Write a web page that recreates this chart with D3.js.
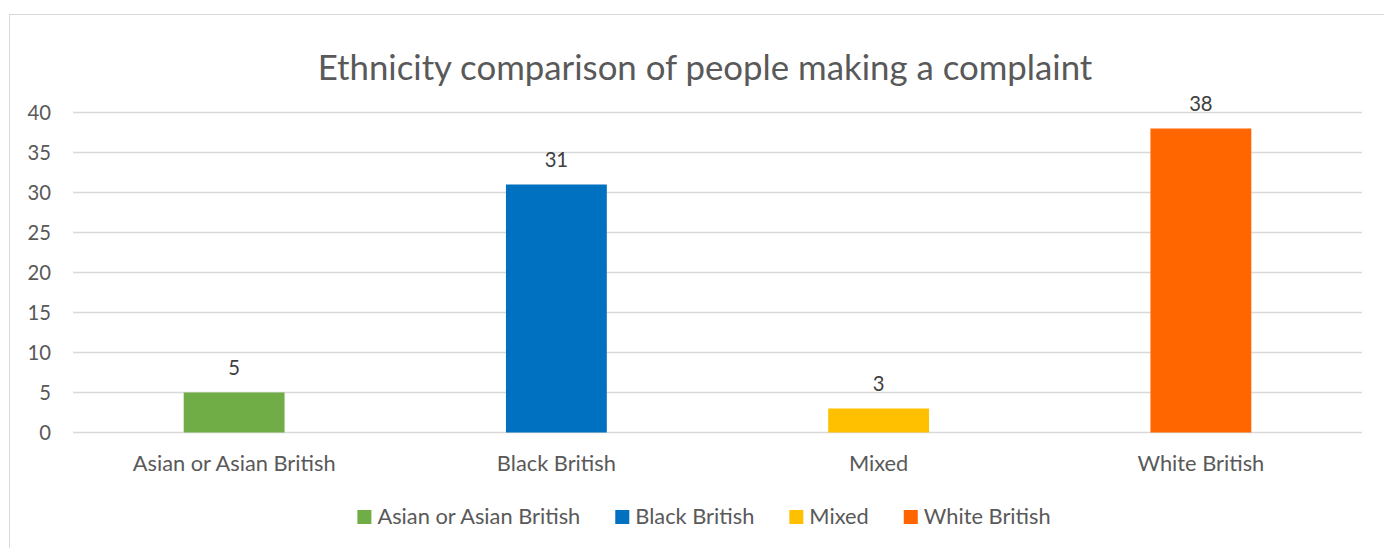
<!DOCTYPE html>
<html>
<head>
<meta charset="utf-8">
<script src="https://cdn.jsdelivr.net/npm/d3@7"></script>
<style>
  html, body { margin: 0; padding: 0; background: #fff; }
  svg { display: block; }
  text { font-family: Lato, "Open Sans", "Noto Sans", sans-serif; }
</style>
</head>
<body>
<svg id="chart" width="1384" height="548"></svg>
<script>
const title = "Ethnicity comparison of people making a complaint";
const categories = ["Asian or Asian British", "Black British", "Mixed", "White British"];
const values = [5, 31, 3, 38];
const colors = ["#70AD47", "#0070C0", "#FFC000", "#FF6600"];
const yTicks = [0, 5, 10, 15, 20, 25, 30, 35, 40];

const W = 1384, H = 548;
const plot = { left: 73, right: 1362, top: 112.5, bottom: 432.5 };
const svg = d3.select("#chart");

svg.append("rect").attr("width", W).attr("height", H).attr("fill", "#fff");
// chart border (left & top visible)
svg.append("rect")
  .attr("x", 9.5).attr("y", 14.5)
  .attr("width", W + 20).attr("height", H + 20)
  .attr("fill", "none").attr("stroke", "#d9d9d9").attr("stroke-width", 1);

// fit font size to a target width
function fit(sel, targetWidth) {
  const base = 20;
  sel.attr("font-size", base);
  const w = sel.node().getComputedTextLength();
  const fs = base * targetWidth / w;
  sel.attr("font-size", fs);
  return fs;
}

const probe = svg.append("text").text("Asian or Asian British");
const labelFS = fit(probe, 203);
probe.text("40");
const numFS = fit(probe, 23.5);
probe.remove();

const x = d3.scaleBand().domain(categories).range([plot.left, plot.right]).paddingInner(0.687).paddingOuter(0.3435);
const y = d3.scaleLinear().domain([0, 40]).range([plot.bottom, plot.top]);

// gridlines
svg.append("g").selectAll("line").data(yTicks).join("line")
  .attr("x1", plot.left).attr("x2", plot.right)
  .attr("y1", d => y(d)).attr("y2", d => y(d))
  .attr("stroke", "#d9d9d9").attr("stroke-width", 1.5);

// y axis labels
const yAxis = d3.axisLeft(y).tickValues(yTicks).tickSize(0).tickPadding(0);
const gy = svg.append("g").attr("transform", `translate(51,0)`).call(yAxis);
gy.select(".domain").remove();
gy.selectAll("text")
  .attr("font-family", 'Lato, "Open Sans", sans-serif')
  .attr("font-size", numFS).attr("fill", "#595959")
  .attr("dy", "0.36em");

// bars
svg.append("g").selectAll("rect").data(values).join("rect")
  .attr("x", (d, i) => x(categories[i]))
  .attr("width", x.bandwidth())
  .attr("y", d => y(d))
  .attr("height", d => y(0) - y(d))
  .attr("fill", (d, i) => colors[i]);

// data labels
svg.append("g").selectAll("text").data(values).join("text")
  .attr("x", (d, i) => x(categories[i]) + x.bandwidth() / 2)
  .attr("y", d => y(d) - 18)
  .attr("text-anchor", "middle")
  .attr("font-size", numFS).attr("fill", "#404040")
  .text(d => d);

// x axis labels
const xAxis = d3.axisBottom(x).tickSize(0).tickPadding(0);
const gx = svg.append("g").attr("transform", `translate(0,${plot.bottom})`).call(xAxis);
gx.select(".domain").remove();
gx.selectAll("text")
  .attr("font-family", 'Lato, "Open Sans", sans-serif')
  .attr("font-size", labelFS).attr("fill", "#595959")
  .attr("dy", 0).attr("y", 471 - plot.bottom);

// title
const t = svg.append("text").attr("x", 705).attr("y", 80)
  .attr("text-anchor", "middle").attr("fill", "#595959").text(title);
fit(t, 775);

// legend
const legend = svg.append("g");
const items = legend.selectAll("g").data(categories).join("g");
items.append("rect").attr("width", 14).attr("height", 14).attr("y", 510)
  .attr("fill", (d, i) => colors[i]);
items.append("text").attr("x", 20).attr("y", 524.3)
  .attr("font-size", labelFS).attr("fill", "#595959").text(d => d);
const widths = [];
items.each(function () { widths.push(20 + d3.select(this).select("text").node().getComputedTextLength()); });
const gap = 35;
const total = d3.sum(widths) + gap * (widths.length - 1);
let cx = 704 - total / 2;
items.attr("transform", (d, i) => { const tx = cx; cx += widths[i] + gap; return `translate(${tx},0)`; });
</script>
</body>
</html>
